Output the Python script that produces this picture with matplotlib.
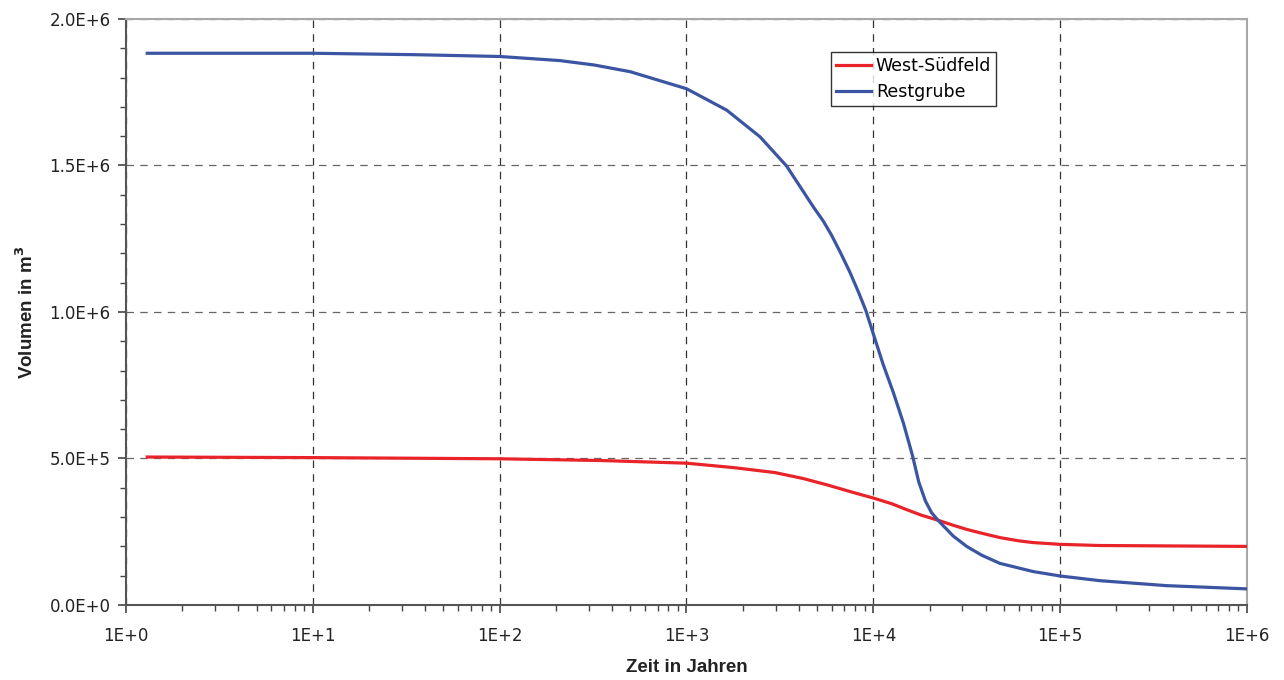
import math
import matplotlib.pyplot as plt
from matplotlib.ticker import FixedLocator, FuncFormatter, LogLocator, NullFormatter

plt.rcParams['font.family'] = ['DejaVu Sans']

# Restgrube (blau)
rest_x = [1.3, 10, 36, 100, 210, 320, 500, 1000, 1640, 2473, 3435, 4770,
          5400, 6000, 6700, 7500, 8300, 9120, 10000, 11300, 12800, 14500,
          16200, 17500, 19000, 20500, 22500, 26800, 31600, 38000, 47600,
          71800, 100000, 163000, 372000, 1000000]
rest_y = [1.883e6, 1.883e6, 1.878e6, 1.872e6, 1.858e6, 1.843e6, 1.820e6,
          1.762e6, 1.689e6, 1.598e6, 1.498e6, 1.359e6, 1.31e6, 1.26e6,
          1.20e6, 1.135e6, 1.07e6, 1.005e6, 9.25e5, 8.2e5, 7.25e5, 6.2e5,
          5.1e5, 4.2e5, 3.55e5, 3.15e5, 2.85e5, 2.35e5, 2.0e5, 1.7e5,
          1.42e5, 1.14e5, 9.9e4, 8.3e4, 6.6e4, 5.5e4]

# West-Suedfeld (rot)
west_x = [1.3, 10, 100, 352, 1000, 1780, 2967, 4190, 5650, 7810, 10000,
          12500, 15000, 18000, 22500, 26800, 31600, 38000, 47600, 60000,
          71800, 100000, 163000, 1000000]
west_y = [5.05e5, 5.03e5, 4.99e5, 4.93e5, 4.84e5, 4.69e5, 4.52e5, 4.32e5,
          4.10e5, 3.84e5, 3.65e5, 3.46e5, 3.26e5, 3.07e5, 2.88e5, 2.72e5,
          2.58e5, 2.45e5, 2.30e5, 2.19e5, 2.13e5, 2.07e5, 2.03e5, 2.0e5]

fig = plt.figure(figsize=(12.84, 6.8), dpi=100)
ax = fig.add_axes([0.0981, 0.1103, 0.8731, 0.8618])

ax.plot(west_x, west_y, color='#e8232a', lw=2.3, label='West-Südfeld', zorder=3)
ax.plot(rest_x, rest_y, color='#3b55a3', lw=2.3, label='Restgrube', zorder=3)

ax.set_xscale('log')
ax.set_xlim(1, 1e6)
ax.set_ylim(0, 2e6)


def x_fmt(v, pos):
    return f"1E+{int(round(math.log10(v)))}"


def y_fmt(v, pos):
    if v == 0:
        return "0.0E+0"
    e = int(math.floor(math.log10(v)))
    return f"{v / 10 ** e:.1f}E+{e}"


ax.xaxis.set_major_locator(LogLocator(base=10, numticks=10))
ax.xaxis.set_minor_locator(LogLocator(base=10, subs=range(2, 10), numticks=20))
ax.xaxis.set_minor_formatter(NullFormatter())
ax.xaxis.set_major_formatter(FuncFormatter(x_fmt))

ax.yaxis.set_major_locator(FixedLocator([0, 5e5, 1e6, 1.5e6, 2e6]))
ax.yaxis.set_minor_locator(FixedLocator([i * 1e5 for i in range(21)]))
ax.yaxis.set_major_formatter(FuncFormatter(y_fmt))

ax.tick_params(axis='both', which='major', direction='out', length=6, width=1.2,
               color='#444444', labelsize=12, labelcolor='#222222')
ax.tick_params(axis='both', which='minor', direction='out', length=4, width=1.0,
               color='#444444')
ax.tick_params(axis='y', which='major', pad=5)
ax.tick_params(axis='x', which='major', pad=10)

ax.grid(True, which='major', axis='x', color='#333333', ls=(0, (6, 5)), lw=0.9)
ax.grid(True, which='major', axis='y', color='#666666', ls=(0, (6, 5)), lw=0.9)

for s in ['left', 'bottom']:
    ax.spines[s].set_color('#555555')
    ax.spines[s].set_linewidth(1.5)
for s in ['top', 'right']:
    ax.spines[s].set_color('#a8a8a8')
    ax.spines[s].set_linewidth(1.5)

ax.set_xlabel('Zeit in Jahren', fontsize=13.5, fontweight='bold', color='#222222',
              family='Liberation Sans', labelpad=10)
ax.set_ylabel('Volumen in m$^\\mathbf{3}$', fontsize=13.5, fontweight='bold', color='#222222',
              family='Liberation Sans', labelpad=9)

leg = ax.legend(loc='upper left', bbox_to_anchor=(0.647, 0.9235), bbox_transform=fig.transFigure,
                fontsize=12.5, frameon=True, fancybox=False, edgecolor='black',
                handlelength=2.0, handletextpad=0.3, borderpad=0.3, labelspacing=0.45,
                borderaxespad=0)
leg.get_frame().set_linewidth(1.0)

fig.savefig('out.png', dpi=100)
